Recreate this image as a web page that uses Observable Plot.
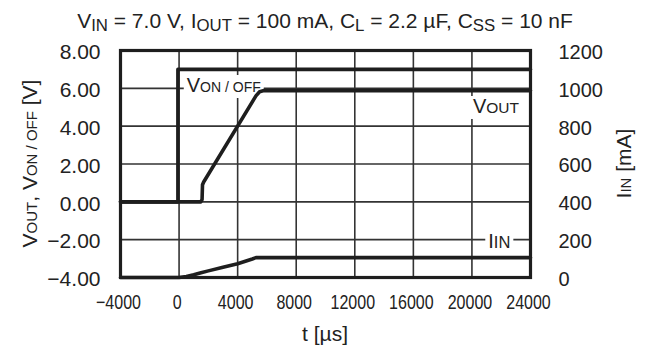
<!DOCTYPE html>
<html>
<head>
<meta charset="utf-8">
<script src="https://cdn.jsdelivr.net/npm/d3@7"></script>
<script src="https://cdn.jsdelivr.net/npm/@observablehq/plot@0.6"></script>
<style>
  html, body { margin: 0; padding: 0; background: #fff; }
  #wrap { width: 646px; height: 354px; font-family: "Liberation Sans", Arial, sans-serif; color: #222; }
  #title { height: 36px; box-sizing: border-box; padding-top: 10px; padding-left: 4px; font-size: 21px; line-height: 21px; text-align: center; white-space: nowrap; overflow: visible; }
  #title .sb { font-size: 0.8em; vertical-align: -3px; line-height: 0; }
  #chart svg { font-family: "Liberation Sans", Arial, sans-serif; display: block; }
</style>
</head>
<body>
<div id="wrap">
  <div id="title">V<span class="sb">IN</span> = 7.0 V, I<span class="sb">OUT</span> = 100 mA, C<span class="sb">L</span> = 2.2 µF, C<span class="sb">SS</span> = 10 nF</div>
  <div id="chart"></div>
</div>
<script>
// ---- data ----
// time axis [µs]
const xTicks = [-4000, 0, 4000, 8000, 12000, 16000, 20000, 24000];
const yTicks = [-4, -2, 0, 2, 4, 6, 8];           // V (left axis)
const iTickLabels = ["0", "200", "400", "600", "800", "1000", "1200"]; // mA (right axis)

// V_ON/OFF [V]
const vonT = [-4000, -80, -80, 24000];
const vonV = [0, 0, 7.0, 7.0];

// V_OUT [V]
const voutT = [-4000, 1480, 1570, 1600, 1680, 5250, 5500, 5800, 24000];
const voutV = [0, 0, 0.12, 0.9, 1.05, 5.6, 5.82, 5.88, 5.88];

// I_IN [mA]
const iinT = [-4000, 0, 500, 1000, 1500, 2000, 3000, 4000, 5000, 5250, 24000];
const iinA = [0, 0, 5, 14, 25, 35, 54, 73, 98, 105, 105];

// ---- build ----
// right axis: 0 mA ↔ -4 V, 1200 mA ↔ 8 V
const mAtoV = (ma) => ma / 100 - 4;
const series = [
  ...vonT.map((t, i) => ({ s: "von", t, v: vonV[i] })),
  ...voutT.map((t, i) => ({ s: "vout", t, v: voutV[i] })),
  ...iinT.map((t, i) => ({ s: "iin", t, v: mAtoV(iinA[i]) }))
];

const xDom = [xTicks[0], xTicks[xTicks.length - 1]];
const yDom = [yTicks[0], yTicks[yTicks.length - 1]];

const fmtX = d3.format("d");
const fmtY = d3.format(".2f");
const ink = "#1e1e1e";
const gridInk = "#333333";

const plot = Plot.plot({
  width: 646,
  height: 318,
  marginTop: 14,
  marginBottom: 77,
  marginLeft: 120,
  marginRight: 116,
  x: { domain: xDom },
  y: { domain: yDom },
  marks: [
    Plot.ruleX(xTicks, { stroke: gridInk, strokeWidth: 1.6 }),
    Plot.ruleY(yTicks, { stroke: gridInk, strokeWidth: 1.6 }),
    Plot.axisX({ ticks: xTicks, tickFormat: fmtX, tickSize: 0, tickPadding: 17, fontSize: 20, label: null, dx: -2 }),
    Plot.axisY({ anchor: "left", ticks: yTicks, tickFormat: fmtY, tickSize: 0, tickPadding: 20, fontSize: 21, label: null, dy: 2 }),
    Plot.axisY({ anchor: "right", ticks: yTicks, tickFormat: (d, i) => iTickLabels[i], tickSize: 0, tickPadding: 28, fontSize: 20, label: null, dy: 2 }),
    Plot.line(series, { x: "t", y: "v", z: "s", stroke: ink, strokeWidth: 3.6, strokeLinejoin: "round" }),
    Plot.frame({ stroke: ink, strokeWidth: 3.2 })
  ]
});
document.getElementById("chart").appendChild(plot);

// condensed x tick labels (narrow face in the reference)
d3.select(plot).selectAll('g[aria-label="x-axis tick label"] text').each(function () {
  const tr = this.getAttribute("transform") || "";
  this.setAttribute("transform", tr + " scale(0.8,1)");
});

// ---- rich-text labels (small-caps style subscripts) ----
const svg = d3.select(plot);
const xs = plot.scale("x"), ys = plot.scale("y");
const dataLines = plot.querySelector('g[aria-label="line"]');
const labelLayer = svg.insert("g", () => dataLines);
const titleLayer = svg.append("g");

function rich(parent, parts, big, small, anchor) {
  const t = parent.append("text")
    .attr("font-family", "'Liberation Sans', Arial, sans-serif")
    .attr("text-anchor", anchor || "start")
    .attr("fill", "#222");
  parts.forEach(([s, isSmall]) => t.append("tspan").attr("font-size", isSmall ? small : big).text(s));
  return t;
}
function boxedLabel(parts, tx, vy, big, small) {
  const g = labelLayer.append("g");
  const rect = g.append("rect").attr("fill", "white");
  const t = rich(g, parts, big, small).attr("x", xs.apply(tx)).attr("y", ys.apply(vy));
  const b = t.node().getBBox();
  rect.attr("x", b.x - 3).attr("y", b.y + 1).attr("width", b.width + 6).attr("height", b.height + 1);
}
boxedLabel([["V", false], ["ON / OFF", true]], 560, 5.78, 20, 14);
boxedLabel([["V", false], ["OUT", true]], 20100, 4.67, 20, 15.5);
boxedLabel([["I", false], ["IN", true]], 21150, -2.46, 20, 16.5);

// axis titles
const cy = (ys.apply(yDom[0]) + ys.apply(yDom[1])) / 2;
const cx = (xs.apply(xDom[0]) + xs.apply(xDom[1])) / 2;
rich(titleLayer, [["V", false], ["OUT", true], [", V", false], ["ON / OFF", true], [" [V]", false]], 21, 15, "middle")
  .attr("transform", `translate(37,${cy}) rotate(-90)`);
rich(titleLayer, [["I", false], ["IN", true], [" [mA]", false]], 21, 15, "middle")
  .attr("transform", `translate(631,${cy}) rotate(-90)`);
rich(titleLayer, [["t [µs]", false]], 21, 15, "middle")
  .attr("x", cx).attr("y", 305);
</script>
</body>
</html>
